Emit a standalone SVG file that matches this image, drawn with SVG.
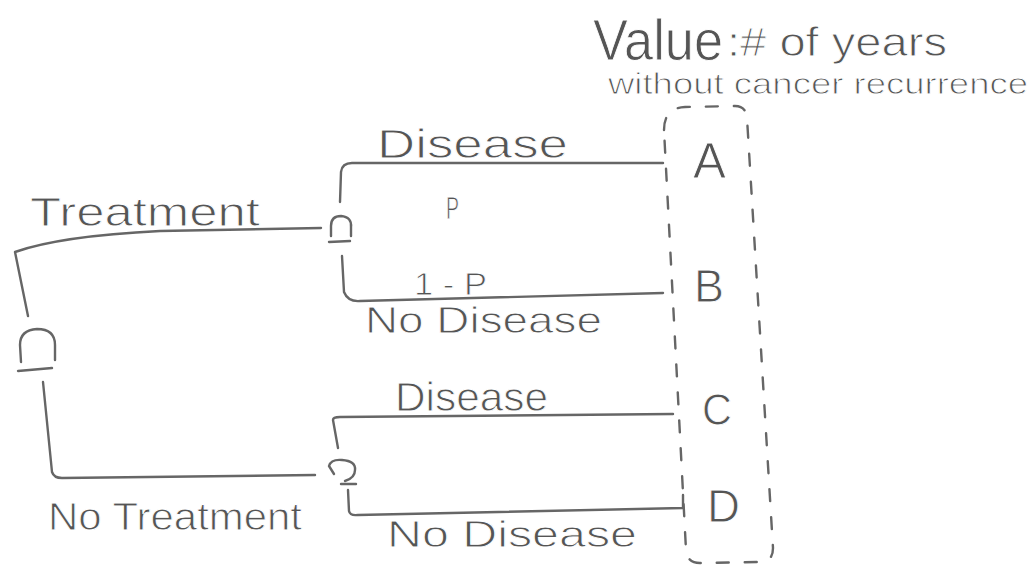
<svg xmlns="http://www.w3.org/2000/svg" width="1033" height="570" viewBox="0 0 1033 570">
<style>
.ln{fill:none;stroke:#666;stroke-width:2.4;stroke-linecap:round;stroke-linejoin:round}
.dash{fill:none;stroke:#666;stroke-width:2.4;stroke-dasharray:12 16;stroke-linecap:round}
.t{font-family:"Liberation Sans","DejaVu Sans",sans-serif;fill:#555;stroke:#fff;stroke-width:0.9}
</style>
<rect width="1033" height="570" fill="#fff"/>
<g id="title">
<text class="t" x="593" y="60" font-size="58" textLength="130" lengthAdjust="spacingAndGlyphs">Value</text>
<text class="t" x="727" y="56" font-size="40" textLength="220" lengthAdjust="spacingAndGlyphs">:# of years</text>
<text class="t" x="608" y="94" font-size="29" textLength="420" lengthAdjust="spacingAndGlyphs">without cancer recurrence</text>
</g>
<g id="connectors">
<path class="ln" d="M28,316 L15,252 Q60,236 160,231 L321,228"/>
<path class="ln" d="M43,382 L52,472 Q54,478 62,478 L315,475"/>
<path class="ln" d="M340,202 L341,172 Q342,163 352,163 L663,163"/>
<path class="ln" d="M342,256 L344,292 Q348,302 360,301 L663,293"/>
<path class="ln" d="M338,448 L333,420 Q333,417 340,417 L673,414"/>
<path class="ln" d="M348,490 L349,511 Q350,516 358,515 L683,508 L683,495"/>
</g>
<g id="node-root">
<path class="ln" d="M21,362 L20,345 Q20,330 37,329 Q55,329 55,345 L55,360"/>
<path class="ln" d="M18,371 L52,368"/>
</g>
<g id="node-treatment">
<path class="ln" d="M331,236 L331,226 Q331,216 341,216 Q352,217 351,227 L351,236"/>
<path class="ln" d="M329,242 L350,241"/>
</g>
<g id="node-notreatment">
<path class="ln" d="M334,474 L329,466 Q331,459 342,460 Q356,461 355,470 Q355,478 345,481"/>
<path class="ln" d="M341,484 L356,484"/>
</g>
<g id="labels">
<text class="t" x="30" y="226" font-size="40" textLength="230" lengthAdjust="spacingAndGlyphs">Treatment</text>
<text class="t" x="48" y="530" font-size="38" textLength="254" lengthAdjust="spacingAndGlyphs">No Treatment</text>
<text class="t" x="377" y="158" font-size="40" textLength="191" lengthAdjust="spacingAndGlyphs">Disease</text>
<text class="t" x="446" y="219" font-size="32" textLength="13" lengthAdjust="spacingAndGlyphs">P</text>
<text class="t" x="414" y="295" font-size="32" textLength="73" lengthAdjust="spacingAndGlyphs">1 - P</text>
<text class="t" x="365" y="333" font-size="36" textLength="237" lengthAdjust="spacingAndGlyphs">No Disease</text>
<text class="t" x="395" y="411" font-size="40" textLength="153" lengthAdjust="spacingAndGlyphs">Disease</text>
<text class="t" x="387" y="547" font-size="36" textLength="250" lengthAdjust="spacingAndGlyphs">No Disease</text>
</g>
<g id="values">
<path class="dash" d="M664,130 Q664,108 685,107 L735,106 Q746,106 747,118 L773,548 Q773,562 760,562 L700,563 Q687,563 686,550 Z"/>
<text class="t" x="693" y="178" font-size="50" textLength="33" lengthAdjust="spacingAndGlyphs">A</text>
<text class="t" x="694" y="302" font-size="46" textLength="30" lengthAdjust="spacingAndGlyphs">B</text>
<text class="t" x="702" y="425" font-size="44" textLength="30" lengthAdjust="spacingAndGlyphs">C</text>
<text class="t" x="707" y="522" font-size="46" textLength="33" lengthAdjust="spacingAndGlyphs">D</text>
</g>
</svg>
